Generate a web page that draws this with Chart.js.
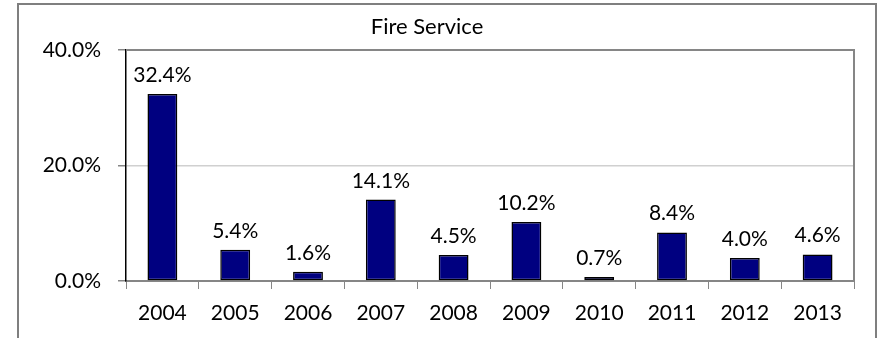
<!DOCTYPE html>
<html>
<head>
<meta charset="utf-8">
<script src="https://cdn.jsdelivr.net/npm/chart.js@4/dist/chart.umd.min.js"></script>
<style>
  html, body { margin: 0; padding: 0; background: #ffffff; }
  #wrap { position: relative; width: 886px; height: 338px; }
</style>
</head>
<body>
<div id="wrap"><canvas id="c" width="886" height="338"></canvas></div>
<script>
// Fire Service: yearly share by year
const years = ['2004', '2005', '2006', '2007', '2008', '2009', '2010', '2011', '2012', '2013'];
const shares = [32.4, 5.4, 1.6, 14.1, 4.5, 10.2, 0.7, 8.4, 4.0, 4.6];
const yTicks = [0, 20, 40];

const FONT = 'Lato, "Liberation Sans", sans-serif';

// Outer frame around the whole chart and the plot-area border (top + right)
const framePlugin = {
  id: 'frame',
  beforeDraw(chart) {
    const ctx = chart.ctx;
    ctx.save();
    ctx.fillStyle = '#ffffff';
    ctx.fillRect(0, 0, chart.width, chart.height);
    ctx.strokeStyle = '#7f7f7f';
    ctx.lineWidth = 2;
    ctx.beginPath();
    ctx.moveTo(18, chart.height + 5);
    ctx.lineTo(18, 4);
    ctx.lineTo(876, 4);
    ctx.lineTo(876, chart.height + 5);
    ctx.stroke();
    ctx.restore();
  },
  afterDraw(chart) {
    const a = chart.chartArea;
    const ctx = chart.ctx;
    ctx.save();
    ctx.strokeStyle = '#868686';
    ctx.lineWidth = 2;
    ctx.beginPath();
    ctx.moveTo(a.left, a.top);
    ctx.lineTo(a.right, a.top);
    ctx.lineTo(a.right, a.bottom);
    ctx.stroke();
    ctx.restore();
  }
};

// Value labels above each bar
const valueLabels = {
  id: 'valueLabels',
  afterDatasetsDraw(chart) {
    const ctx = chart.ctx;
    const meta = chart.getDatasetMeta(0);
    const data = chart.data.datasets[0].data;
    ctx.save();
    ctx.font = '21px ' + FONT;
    ctx.fillStyle = '#000000';
    ctx.textAlign = 'center';
    ctx.textBaseline = 'alphabetic';
    meta.data.forEach((bar, i) => {
      ctx.fillText(data[i].toFixed(1) + '%', bar.x, bar.y - 12);
    });
    ctx.restore();
  }
};

new Chart(document.getElementById('c'), {
  type: 'bar',
  data: {
    labels: years,
    datasets: [{
      data: shares,
      backgroundColor: '#000080',
      borderColor: '#000000',
      borderWidth: 1.5,
      borderSkipped: false,
      categoryPercentage: 1.0,
      barPercentage: 0.41
    }]
  },
  options: {
    responsive: false,
    animation: false,
    devicePixelRatio: 1,
    layout: { padding: { left: 0, right: 32, top: 0, bottom: 0 } },
    plugins: {
      legend: { display: false },
      tooltip: { enabled: false },
      title: {
        display: true,
        text: 'Fire Service',
        color: '#000000',
        font: { family: FONT, size: 22, weight: 'normal', lineHeight: 1.2 },
        padding: { top: 14, bottom: 9.6 }
      }
    },
    scales: {
      x: {
        grid: {
          offset: true,
          drawOnChartArea: false,
          drawTicks: true,
          tickLength: 8,
          tickColor: '#868686'
        },
        border: { color: '#868686', width: 2 },
        ticks: {
          color: '#000000',
          font: { family: FONT, size: 21, lineHeight: 1.2 },
          padding: 12,
          maxRotation: 0
        },
        afterFit(scale) { scale.height = 57; }
      },
      y: {
        min: 0,
        max: 40,
        afterBuildTicks(scale) { scale.ticks = yTicks.map(v => ({ value: v })); },
        grid: {
          color: ctx => (ctx.tick && ctx.tick.value === 20) ? '#d0d0d0' : 'rgba(0,0,0,0)',
          lineWidth: 1.5,
          drawTicks: true,
          tickLength: 8,
          tickColor: '#868686'
        },
        border: { color: '#000000', width: 1.5 },
        ticks: {
          color: '#000000',
          font: { family: FONT, size: 21 },
          padding: 17,
          callback: v => Number(v).toFixed(1) + '%'
        },
        afterFit(scale) { scale.width = 126; }
      }
    }
  },
  plugins: [framePlugin, valueLabels]
});
</script>
</body>
</html>
